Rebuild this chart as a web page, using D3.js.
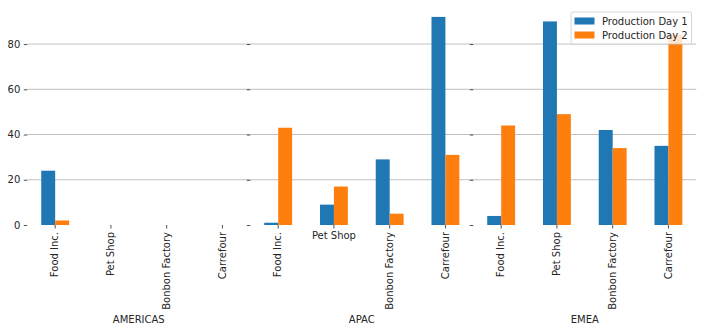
<!DOCTYPE html>
<html>
<head>
<meta charset="utf-8">
<script src="https://cdn.jsdelivr.net/npm/d3@7"></script>
<style>
  html, body { margin: 0; padding: 0; background: #fff; }
  svg { display: block; font-family: "DejaVu Sans", sans-serif; }
</style>
</head>
<body>
<svg id="chart" width="703" height="331"></svg>
<script>
const categories = ["Food Inc.", "Pet Shop", "Bonbon Factory", "Carrefour"];
const regions = ["AMERICAS", "APAC", "EMEA"];
const seriesNames = ["Production Day 1", "Production Day 2"];
// values per region, in category order
const day1 = [
  [24, 0, 0, 0],
  [1, 9, 29, 92],
  [4, 90, 42, 35]
];
const day2 = [
  [2, 0, 0, 0],
  [43, 17, 5, 31],
  [44, 49, 34, 84]
];
const yTicks = [0, 20, 40, 60, 80];
const colors = ["#1f77b4", "#ff7f0e"];

const svg = d3.select("#chart");
const panelW = 223;
const panelLefts = [27.3, 250.3, 473.3];
const plotTop = 6.5, plotBottom = 225;
const textColor = "#262626";

const yMax = d3.max([...day1.flat(), ...day2.flat()]) * 1.05;
const y = d3.scaleLinear().domain([0, yMax]).range([plotBottom, plotTop]);

regions.forEach((region, ri) => {
  const left = panelLefts[ri];
  const g = svg.append("g");
  const x = d3.scaleBand().domain(categories).range([left, left + panelW])
    .paddingInner(0.5).paddingOuter(0.25);
  const xs = d3.scaleBand().domain(seriesNames).range([0, x.bandwidth()]);

  // gridlines
  g.append("g").selectAll("line").data(yTicks.filter(t => t > 0)).join("line")
    .attr("x1", left).attr("x2", left + panelW)
    .attr("y1", d => y(d)).attr("y2", d => y(d))
    .attr("stroke", "#b0b0b0").attr("stroke-width", 0.8);

  // bars
  const rows = categories.map((c, i) => ({ cat: c, vals: [day1[ri][i], day2[ri][i]] }));
  seriesNames.forEach((s, si) => {
    g.append("g").selectAll("rect").data(rows).join("rect")
      .attr("x", d => x(d.cat) + xs(s))
      .attr("width", xs.bandwidth())
      .attr("y", d => y(d.vals[si]))
      .attr("height", d => plotBottom - y(d.vals[si]))
      .attr("fill", colors[si]);
  });

  // y axis
  const yAxis = d3.axisLeft(y).tickValues(yTicks).tickSize(3.5).tickPadding(3.5)
    .tickFormat(ri === 0 ? d3.format("d") : () => "");
  const ya = g.append("g").attr("transform", `translate(${left},0)`).call(yAxis);
  ya.select(".domain").remove();
  ya.selectAll("line").attr("stroke", textColor).attr("stroke-width", 0.8);
  ya.selectAll("text").attr("font-size", 10).attr("fill", textColor)
    .attr("font-family", "DejaVu Sans");

  // x axis
  const xAxis = d3.axisBottom(x).tickSize(3.5).tickPadding(3.5);
  const xa = g.append("g").attr("transform", `translate(0,${plotBottom})`).call(xAxis);
  xa.select(".domain").remove();
  xa.selectAll("line").attr("stroke", textColor).attr("stroke-width", 0.8);
  xa.selectAll("text")
    .attr("font-size", 10).attr("fill", textColor).attr("font-family", "DejaVu Sans")
    .each(function(d) {
      const t = d3.select(this);
      const horizontal = (region === "APAC" && d === "Pet Shop");
      if (horizontal) {
        t.attr("y", 7).attr("dy", "0.71em").attr("text-anchor", "middle");
      } else {
        t.attr("y", 0).attr("dy", "0.32em").attr("x", -7)
          .attr("transform", "rotate(-90)").attr("text-anchor", "end");
      }
    });

  // region label
  svg.append("text")
    .attr("x", left + panelW / 2).attr("y", 322.5)
    .attr("text-anchor", "middle").attr("font-size", 10).attr("fill", textColor)
    .text(region);
});

// legend
const lg = svg.append("g").attr("transform", "translate(571,12)");
lg.append("rect").attr("x", 0).attr("y", 0).attr("width", 120.5).attr("height", 32)
  .attr("rx", 2).attr("fill", "#fff").attr("fill-opacity", 0.8)
  .attr("stroke", "#cccccc").attr("stroke-width", 0.8);
seriesNames.forEach((s, i) => {
  lg.append("rect").attr("x", 3.5).attr("y", 5.5 + i * 14).attr("width", 20).attr("height", 7)
    .attr("fill", colors[i]);
  lg.append("text").attr("x", 31).attr("y", 9 + i * 14).attr("dy", "0.35em")
    .attr("font-size", 10).attr("fill", textColor).text(s);
});
</script>
</body>
</html>
